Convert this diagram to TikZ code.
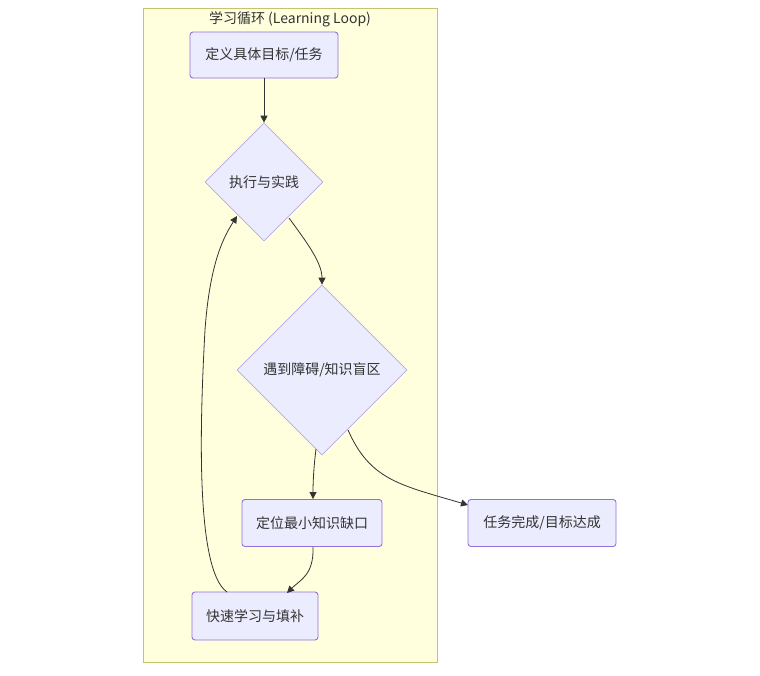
\documentclass[tikz,border=0pt]{standalone}
\usepackage{fontspec}
\setmainfont{Noto Sans CJK SC}
\usetikzlibrary{shapes.geometric,arrows.meta}
\definecolor{clfill}{HTML}{FFFFDE}
\definecolor{clline}{HTML}{C4C46E}
\definecolor{nfill}{HTML}{ECECFF}
\definecolor{nline}{HTML}{9370DB}
\definecolor{dline}{HTML}{B9A6E6}
\definecolor{ink}{HTML}{333333}
\tikzset{
  box/.style={draw=nline, fill=nfill, rounded corners=3pt, line width=0.9pt, text=ink, font=\fontsize{14}{16}\selectfont, inner sep=0pt},
  dia/.style={draw=dline, fill=nfill, diamond, line width=0.7pt, text=ink, font=\fontsize{14}{16}\selectfont, inner sep=0pt, aspect=1},
  conn/.style={draw=ink, line width=0.8pt, -{Triangle[length=7pt,width=7pt]}}
}
\begin{document}
\begin{tikzpicture}[x=1pt,y=-1pt]
\useasboundingbox (0,0) rectangle (760,675);
\fill[white] (0,0) rectangle (760,675);
\draw[clline, fill=clfill, line width=0.9pt] (143,8) rectangle (437,662);
\node[text=ink, font=\fontsize{14}{16}\selectfont] (title) at (290,19) {学习循环 (Learning Loop)};
\node[box, minimum width=148pt, minimum height=46pt] (a) at (264,55) {定义具体目标/任务};
\node[dia, minimum width=118pt, minimum height=118pt] (b) at (264,182) {执行与实践};
\node[dia, minimum width=170pt, minimum height=170pt] (c) at (322,370) {遇到障碍/知识盲区};
\node[box, minimum width=140pt, minimum height=47pt] (d) at (312,523) {定位最小知识缺口};
\node[box, minimum width=148pt, minimum height=47pt] (e) at (542,523) {任务完成/目标达成};
\node[box, minimum width=126pt, minimum height=48pt] (f) at (255,616) {快速学习与填补};
\draw[conn] (a.south) -- (b.north);
\draw[conn] (289,218) .. controls (305,240) and (322,262) .. (c.north);
\draw[conn] (316,449) .. controls (314,465) and (313,480) .. (d.north -| 313,0);
\draw[conn] (348,430) .. controls (370,480) and (400,485) .. (468,505);
\draw[conn] (313,547) .. controls (314,575) and (300,580) .. (287,593);
\draw[conn] (227,592) .. controls (195,570) and (200,420) .. (205,330) .. controls (210,260) and (225,235) .. (237,216);
\end{tikzpicture}
\end{document}
